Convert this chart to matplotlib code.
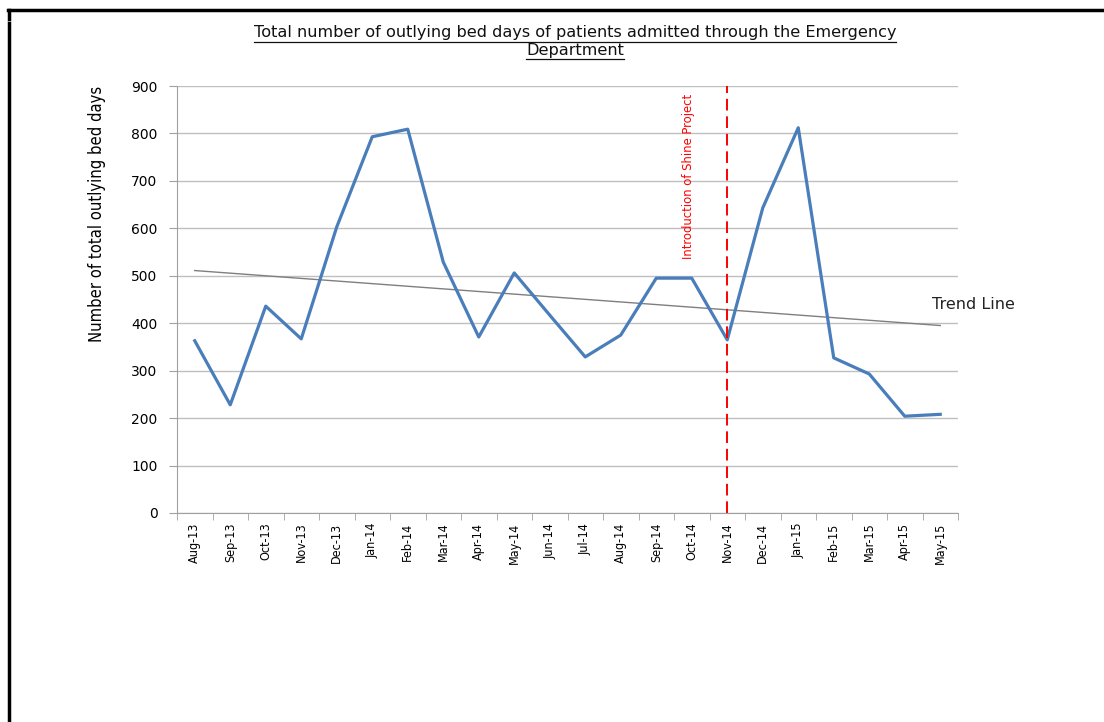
import numpy as np
import matplotlib
matplotlib.use("Agg")
import matplotlib.pyplot as plt
from matplotlib.lines import Line2D

months = ['Aug-13', 'Sep-13', 'Oct-13', 'Nov-13', 'Dec-13', 'Jan-14', 'Feb-14',
          'Mar-14', 'Apr-14', 'May-14', 'Jun-14', 'Jul-14', 'Aug-14', 'Sep-14',
          'Oct-14', 'Nov-14', 'Dec-14', 'Jan-15', 'Feb-15', 'Mar-15', 'Apr-15',
          'May-15']
bed_days = [363, 228, 436, 367, 603, 793, 809, 529, 371, 506, 417, 329,
            375, 495, 495, 365, 643, 812, 327, 293, 204, 208]
yticks = [0, 100, 200, 300, 400, 500, 600, 700, 800, 900]
shine_month = 'Nov-14'

narrow = dict(family='DejaVu Sans', stretch='condensed')

fig = plt.figure(figsize=(11.04, 7.22), dpi=100)
ax = fig.add_axes([177/1104, 209/722, 781/1104, 427/722])

x = np.arange(len(months))
ax.plot(x, bed_days, color='#4a7ebb', lw=2.3, zorder=3)

# linear trend over the whole period
k, b = np.polyfit(x, bed_days, 1)
ax.plot(x, k*x + b, color='#7f7f7f', lw=1.0, zorder=2)
ax.text(20.77, 440, 'Trend Line', fontsize=11.5, color='#222222',
        family='DejaVu Sans', ha='left', va='center')

xs = months.index(shine_month)
ax.plot([xs, xs], [0, 900], color='#ff0000', lw=1.4, ls=(0, (6, 3)), zorder=4)
ax.text(xs - 1.1, 535, 'Introduction of Shine Project', rotation=90,
        color='#ff0000', fontsize=9.3, ha='center', va='bottom', **narrow)

ax.set_xlim(-0.5, len(months) - 0.5)
ax.set_ylim(0, 900)
ax.set_yticks(yticks)
ax.set_xticks(x)
ax.set_xticklabels(months, rotation=90, fontsize=9, **narrow)
ax.set_xticks(np.arange(-0.5, len(months)), minor=True)
ax.tick_params(axis='x', which='major', length=0, pad=7)
ax.tick_params(axis='x', which='minor', length=5, color='#a0a0a0')
ax.tick_params(axis='y', length=6, color='#a0a0a0', labelsize=10, pad=8)
ax.grid(axis='y', color='#bfbfbf', lw=1.0)
ax.set_axisbelow(True)
for s in ['top', 'right']:
    ax.spines[s].set_visible(False)
for s in ['left', 'bottom']:
    ax.spines[s].set_color('#a0a0a0')

fig.text(97/1104, 1 - 214/722, 'Number of total outlying bed days', rotation=90,
         ha='center', va='center', fontsize=11.9, **narrow)

# underlined two-line title
title_lines = ['Total number of outlying bed days of patients admitted through the Emergency',
               'Department']
title_y = [33, 50]
texts = []
for line, ty in zip(title_lines, title_y):
    texts.append(fig.text(575/1104, 1 - ty/722, line, ha='center', va='center',
                          fontsize=11.6, family='DejaVu Sans', color='#111111'))
fig.canvas.draw()
renderer = fig.canvas.get_renderer()
for t in texts:
    bb = t.get_window_extent(renderer)
    yline = bb.y0 - 1
    fig.add_artist(Line2D([bb.x0 / 1104, bb.x1 / 1104], [yline / 722, yline / 722],
                          transform=fig.transFigure, color='#111111', lw=0.9))

# page frame
frame = dict(transform=fig.transFigure, color='black', lw=2.5)
fig.add_artist(Line2D([8/1104, 1], [1 - 10/722, 1 - 10/722], **frame))
fig.add_artist(Line2D([9/1104, 9/1104], [1 - 10/722, 1 - 19/722], **frame))
fig.add_artist(Line2D([9/1104, 9/1104], [1 - 23/722, 0], **frame))

fig.savefig('out.png', dpi=100)
